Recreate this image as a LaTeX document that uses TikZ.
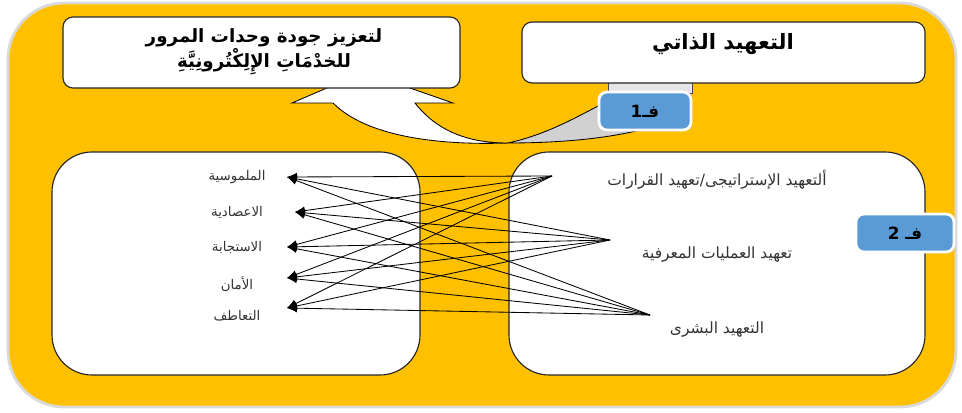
\documentclass[tikz,border=0pt]{standalone}
\usepackage{fontspec}
\newfontfamily\arabicfont[Script=Arabic]{DejaVu Sans}
\TeXXeTstate=1
\usetikzlibrary{arrows.meta, shadows}
\definecolor{gold}{HTML}{FFC000}
\definecolor{tabblue}{HTML}{5B9BD5}

\begin{document}
\begin{tikzpicture}[x=0.025cm, y=-0.025cm,
    box/.style={draw=black!85, fill=white, line width=0.8pt},
    tabbox/.style={draw=white, line width=2pt, fill=tabblue, rounded corners=0.2cm,
        drop shadow={shadow xshift=1pt, shadow yshift=-1pt, fill=black!25},
        minimum width=2.3cm, minimum height=0.95cm, font=\arabicfont\bfseries\fontsize{12}{14}\selectfont},
    lbl/.style={font=\arabicfont\fontsize{9.5}{11}\selectfont, text=black!80},
    rlbl/.style={font=\arabicfont\fontsize{11}{13}\selectfont, text=black!80}]
    \useasboundingbox (0,0) rectangle (962,413);
    % frame
    \draw[fill=gold, draw=black!15, line width=2pt, rounded corners=1.4cm] (8,3) rectangle (956,407);
    % curved arrow
    \draw[fill=white, line width=0.6pt] (292,103) -- (364,72) -- (453,103) -- (415,103)
        .. controls (440,135) and (475,143) .. (508,143)
        .. controls (450,145) and (370,140) .. (333,103) -- cycle;
    \draw[fill=black!18, line width=0.6pt] (508,143) .. controls (545,135) and (575,118) .. (600,105)
        -- (640,105) -- (640,130) .. controls (600,140) and (550,143) .. cycle;
    % top boxes
    \draw[box, rounded corners=0.25cm] (63,17) rectangle (460,88);
    \node[font=\arabicfont\bfseries\fontsize{13}{14}\selectfont, align=center] (aim) at (264,52)
        {\beginR لتعزيز جودة وحدات المرور\endR\\ \beginR للخدْمَاتِ الإِلِكْتُرونِيَّةِ\endR};
    \draw[fill=black!10, draw=black!70] (608,80) rectangle (692,93);
    \draw[box, rounded corners=0.25cm] (522,22) rectangle (925,83);
    \node[font=\arabicfont\bfseries\fontsize{15}{17}\selectfont] (self) at (723,44) {\beginR التعهيد الذاتي\endR};
    \node[tabbox] (f1) at (645,111) {\beginR فـ1\endR};
    % bottom boxes
    \draw[box, rounded corners=1cm] (52,152) rectangle (420,375);
    \draw[box, rounded corners=1cm] (509,152) rectangle (925,375);
    \node[tabbox, minimum width=2.45cm] (f2) at (905,233) {\beginR فـ 2\endR};
    % quality
    \foreach \i/\y/\tx/\t in {1/177/287/الملموسية, 2/212/295/الاعصادية, 3/247/287/الاستجابة, 4/284/287/الأمان, 5/316/287/التعاطف} {
        \node[lbl] (q\i) at (237,\y) {\beginR\t\endR};
        \coordinate (tgt\i) at (\tx,\y);
    }
    \coordinate (tgt4) at (287,278);
    \coordinate (tgt5) at (287,308);
    % outsourcing
    \foreach \i/\x/\y/\ly/\t in {1/552/176/180/{ألتعهيد الإستراتيجى/تعهيد القرارات}, 2/610/240/255/{تعهيد العمليات المعرفية}, 3/650/315/330/{التعهيد البشرى}} {
        \coordinate (src\i) at (\x,\y);
        \node[rlbl] (o\i) at (717,\ly) {\beginR\t\endR};
    }
    \foreach \s in {1,2,3}
        \foreach \t in {1,...,5}
            \draw[-{Latex[length=7pt,width=6pt]}, line width=0.6pt] (src\s) -- (tgt\t);
\end{tikzpicture}
\end{document}
